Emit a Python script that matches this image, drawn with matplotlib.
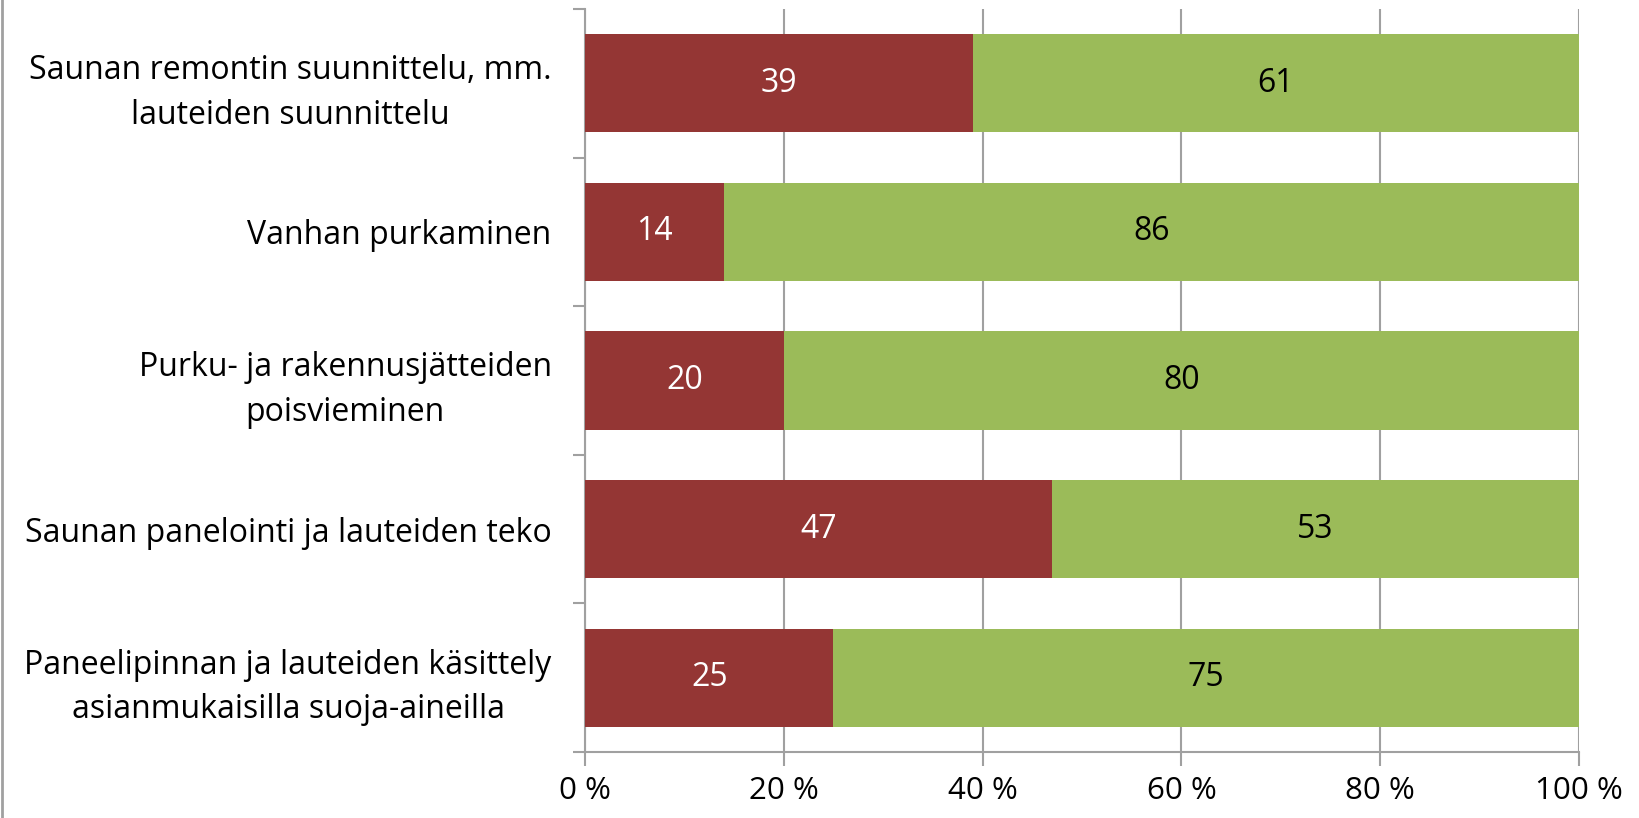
import matplotlib.pyplot as plt
import numpy as np

categories = [
    "Saunan remontin suunnittelu, mm.\nlauteiden suunnittelu",
    "Vanhan purkaminen",
    "Purku- ja rakennusjätteiden\npoisvieminen",
    "Saunan panelointi ja lauteiden teko",
    "Paneelipinnan ja lauteiden käsittely\nasianmukaisilla suoja-aineilla",
]
red_vals = [39, 14, 20, 47, 25]
green_vals = [61, 86, 80, 53, 75]
x_ticks = [0, 20, 40, 60, 80, 100]
x_labels = ["0 %", "20 %", "40 %", "60 %", "80 %", "100 %"]

RED = "#943634"
GREEN = "#9BBB59"
GRAY = "#A0A0A0"

plt.rcParams['font.family'] = ['Open Sans', 'DejaVu Sans']

fig = plt.figure(figsize=(16.4, 8.18), dpi=100)
ax = fig.add_axes([585 / 1640, 1 - 752 / 818, (1579 - 585) / 1640, (752 - 9) / 818])

y = np.arange(len(categories))
ax.barh(y, red_vals, height=0.66, color=RED, zorder=3)
ax.barh(y, green_vals, left=red_vals, height=0.66, color=GREEN, zorder=3)

for i, (r, g) in enumerate(zip(red_vals, green_vals)):
    ax.text(r / 2, i, str(r), ha='center', va='center', color='white', fontsize=23, zorder=4)
    ax.text(r + g / 2, i, str(g), ha='center', va='center', color='black', fontsize=23, zorder=4)

ax.set_xlim(0, 100)
ax.set_ylim(len(categories) - 0.5, -0.5)
ax.set_xticks(x_ticks)
ax.set_xticklabels(x_labels, fontsize=22.5)
ax.set_yticks(y)
ax.set_yticklabels(categories, fontsize=23, ha='right', multialignment='center', linespacing=1.45)
ax.tick_params(axis='y', length=0, pad=24)
ax.set_yticks(np.arange(len(categories) + 1) - 0.5, minor=True)
ax.tick_params(axis='y', which='minor', length=8.5, color=GRAY, width=1.5)
ax.tick_params(axis='x', length=10, color=GRAY, width=1.5, pad=7, direction='out')

ax.grid(axis='x', color=GRAY, linewidth=1.5, zorder=0)
for side in ['top', 'right']:
    ax.spines[side].set_visible(False)
for side in ['left', 'bottom']:
    ax.spines[side].set_color(GRAY)
    ax.spines[side].set_linewidth(1.5)

# chart border on the left edge
fig.add_artist(plt.Line2D([0.0015, 0.0015], [0, 1], color=GRAY, linewidth=2))

fig.savefig("out.png", dpi=100)
